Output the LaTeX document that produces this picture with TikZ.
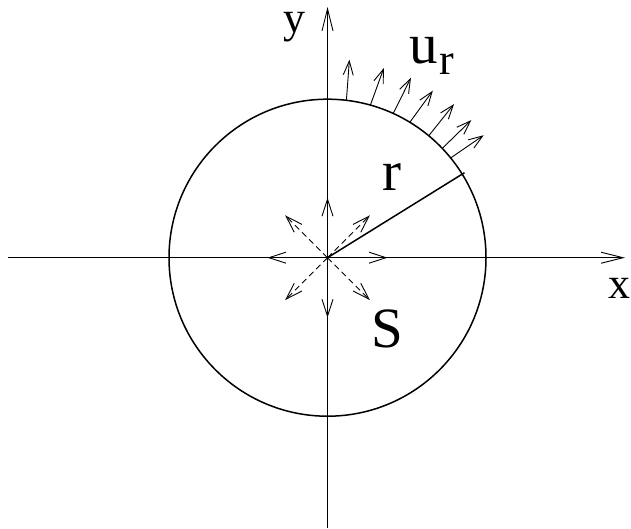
\documentclass[tikz,border=0pt]{standalone}
\usepackage{fontspec}
\setmainfont{Liberation Serif}
\usetikzlibrary{arrows.meta}
\begin{document}
\begin{tikzpicture}[x=1pt,y=-1pt,
  axis/.style={line width=0.9pt, -{Straight Barb[length=22pt,width=11pt]}},
  flow/.style={line width=0.9pt, -{Straight Barb[length=14pt,width=10pt]}},
  src/.style={line width=0.9pt, dash pattern=on 6pt off 4pt, -{Straight Barb[length=17pt,width=11pt]}},
  thick line/.style={line width=1.5pt},
  big/.style={font=\fontsize{57}{57}\selectfont, inner sep=0pt, anchor=base},
  small/.style={font=\fontsize{44}{44}\selectfont, inner sep=0pt, anchor=base, text height=1.1ex},
  sub/.style={font=\fontsize{44}{44}\selectfont, inner sep=0pt, anchor=base}]
\useasboundingbox (0,0) rectangle (631,529);
\coordinate (O) at (327.5,257.7);
\coordinate (xl) at (8,257.7);
\coordinate (xr) at (625,257.7);
\coordinate (yb) at (327.5,528);
\coordinate (yt) at (327.5,7);
\draw[axis] (xl) -- (xr);
\draw[axis] (yb) -- (yt);
\draw[thick line] (O) circle[radius=158.5];
\coordinate (rend) at (464.5,172.7);
\draw[thick line] (O) -- (rend);
% source arrows
\foreach \a in {0,45,...,315}{
  \coordinate (src\a) at ([shift={(\a:60)}]O);
  \draw[src] (O) -- (src\a);
}
% radial velocity arrows
\foreach \i/\ang/\dx/\dy in {1/83.15/3/-40.6, 2/74.3/13.4/-37, 3/65.5/17.7/-35.7, 4/58.7/23/-31.6, 5/50.3/25.3/-31.7, 6/43.6/29/-28.3, 7/39.0/33/-22.7}{
  \coordinate (s\i) at ([shift={(-\ang:158.5)}]O);
  \coordinate (t\i) at ([shift={(\dx,\dy)}]s\i);
  \draw[flow] (s\i) -- (t\i);
}
\node[small] (ylab) at (294,33) {y};
\node[small] (xlab) at (619,298) {x};
\node[big] (ulab) at (423.5,64) {u};
\node[sub] (usub) at (447,75) {r};
\node[big] (rlab) at (391.5,191) {r};
\node[big] (slab) at (387.5,347) {S};
\end{tikzpicture}
\end{document}
